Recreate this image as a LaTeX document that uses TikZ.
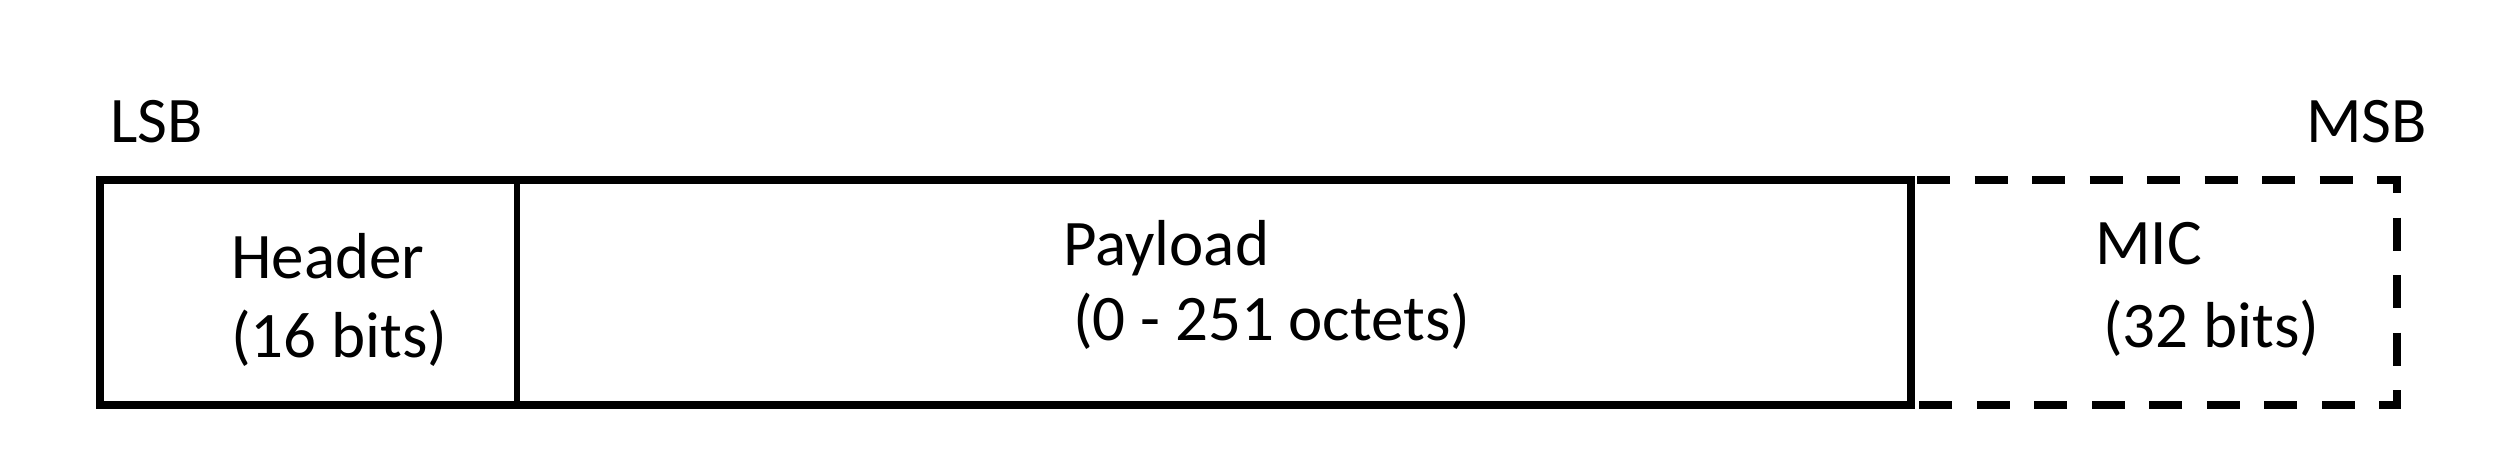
\documentclass[tikz,border=0pt]{standalone}
\usepackage{fontspec}
\setmainfont{Carlito}
\begin{document}
\begin{tikzpicture}[x=1pt,y=-1pt,
  lbl/.style={anchor=base west,inner sep=0pt,font=\fontsize{65}{79}\selectfont},
  outer/.style={line width=7.5pt,line join=miter},
  divider/.style={line width=6pt},
  dashbox/.style={line width=7.5pt,dash pattern=on 33pt off 24.5pt,line join=miter}]
\useasboundingbox[fill=white] (0,0) rectangle (2500,458);
% corners
\coordinate (a) at (100,180);
\coordinate (b) at (1911,180);
\coordinate (c) at (1911,405);
\coordinate (d) at (100,405);
\coordinate (bs) at (1917,180);
\coordinate (cs) at (1917,405);
\coordinate (h1) at (517,180);
\coordinate (h2) at (517,405);
\coordinate (m1) at (2397,180);
\coordinate (m2) at (2397,405);
% boxes
\draw[outer] (a) -- (b) -- (c) -- (d) -- cycle;
\draw[divider] (h1) -- (h2);
\draw[dashbox] (bs) -- (m1) -- (m2) -- (cs);
% labels
\node[lbl] (lsb) at (110,142) {LSB};
\node[lbl] (msb) at (2306,142) {MSB};
\node[lbl] (hdr1) at (231,278) {Header};
\node[lbl] (hdr2) at (231,357) {(16 bits)};
\node[lbl] (pl1) at (1063,265) {Payload};
\node[lbl] (pl2) at (1073,340) {(0 - 251 octets)};
\node[lbl] (mic1) at (2095,264) {MIC};
\node[lbl] (mic2) at (2103,347) {(32 bits)};
\end{tikzpicture}
\end{document}
